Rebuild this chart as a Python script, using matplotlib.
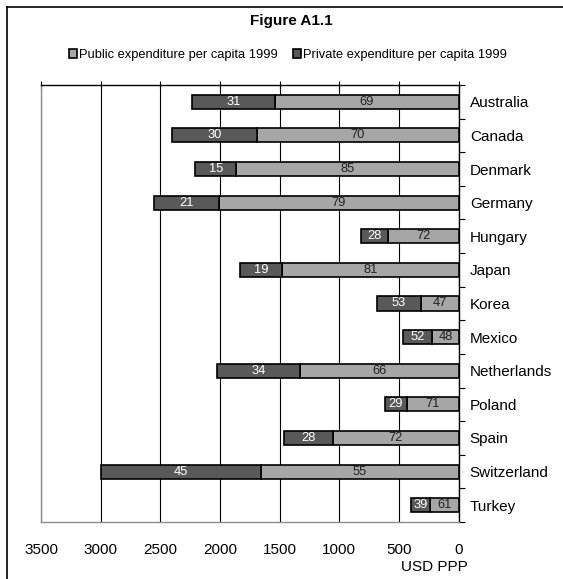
import matplotlib
matplotlib.use("Agg")
import matplotlib.pyplot as plt
from matplotlib.patches import Patch
from matplotlib.lines import Line2D
import numpy as np

plt.rcParams['font.family'] = ['Liberation Sans', 'DejaVu Sans']

countries = ["Australia", "Canada", "Denmark", "Germany", "Hungary", "Japan", "Korea",
             "Mexico", "Netherlands", "Poland", "Spain", "Switzerland", "Turkey"]
public = [1541, 1689, 1863, 2005, 590, 1480, 316, 221, 1329, 436, 1055, 1653, 238]
private = [693, 715, 346, 549, 231, 349, 368, 243, 695, 184, 411, 1343, 159]
public_pct = [69, 70, 85, 79, 72, 81, 47, 48, 66, 71, 72, 55, 61]
private_pct = [31, 30, 15, 21, 28, 19, 53, 52, 34, 29, 28, 45, 39]
x_ticks = [3500, 3000, 2500, 2000, 1500, 1000, 500, 0]

pub_color = "#a6a6a6"
priv_color = "#595959"

fig = plt.figure(figsize=(5.63, 5.79), dpi=100)
ax = fig.add_axes([41 / 563, 1 - 522 / 579, (458.7 - 41) / 563, (522 - 85) / 579])

y = np.arange(len(countries))
ax.barh(y, public, height=0.42, color=pub_color, edgecolor="black", linewidth=1.2, zorder=3)
ax.barh(y, private, left=public, height=0.42, color=priv_color, edgecolor="black",
        linewidth=1.2, zorder=3)

for i in range(len(countries)):
    ax.text(public[i] / 2, y[i], str(public_pct[i]), ha="center", va="center",
            fontsize=9.3, color="#222222", zorder=4)
    ax.text(public[i] + private[i] / 2, y[i], str(private_pct[i]), ha="center", va="center",
            fontsize=9.3, color="white", zorder=4)

ax.set_xlim(3500, 0)
ax.set_ylim(len(countries) - 0.5, -0.5)
ax.set_xticks(x_ticks)
ax.set_xticklabels([str(v) for v in x_ticks], fontsize=11)
ax.xaxis.grid(True, color="black", linewidth=0.8, zorder=0)

# value axis: labels below, tick marks on top line
ax.tick_params(axis="x", bottom=False, top=True, labelbottom=True, labeltop=False,
               direction="inout", length=6, width=0.8, pad=12)

# category axis on the right
ax.yaxis.tick_right()
ax.set_yticks(y)
ax.set_yticklabels(countries, fontsize=11)
ax.set_yticks(np.arange(len(countries) + 1) - 0.5, minor=True)
ax.tick_params(axis="y", which="major", length=0, pad=8, left=False, right=True)
ax.tick_params(axis="y", which="minor", length=4, width=0.8, direction="out",
               left=False, right=True)

ax.spines["top"].set_color("black")
ax.spines["right"].set_color("black")
ax.spines["left"].set_color("#8c8c8c")
ax.spines["bottom"].set_color("#8c8c8c")
for s in ax.spines.values():
    s.set_linewidth(1.0)

fig.text(434 / 563, 1 - 567 / 579, "USD PPP", ha="center", va="center", fontsize=11)
fig.text(291 / 563, 1 - 20.7 / 579, "Figure A1.1", ha="center", va="center",
         fontsize=11, fontweight="bold")

handles = [Patch(facecolor=pub_color, edgecolor="black", linewidth=1.2),
           Patch(facecolor=priv_color, edgecolor="black", linewidth=1.2)]
fig.legend(handles, ["Public expenditure per capita 1999", "Private expenditure per capita 1999"],
           loc="center", bbox_to_anchor=(288 / 563, 1 - 55 / 579), ncol=2, frameon=False,
           fontsize=9.3, handlelength=0.6, handleheight=0.6, handletextpad=0.15,
           columnspacing=1.2, borderpad=0)

# outer frame (left and top edges visible)
fig.add_artist(Line2D([7.5 / 563, 7.5 / 563], [0, 1 - 6.5 / 579], color="black",
                      linewidth=1.2, transform=fig.transFigure))
fig.add_artist(Line2D([7.5 / 563, 1], [1 - 6.5 / 579, 1 - 6.5 / 579], color="black",
                      linewidth=1.2, transform=fig.transFigure))

fig.savefig("out.png", dpi=100)
